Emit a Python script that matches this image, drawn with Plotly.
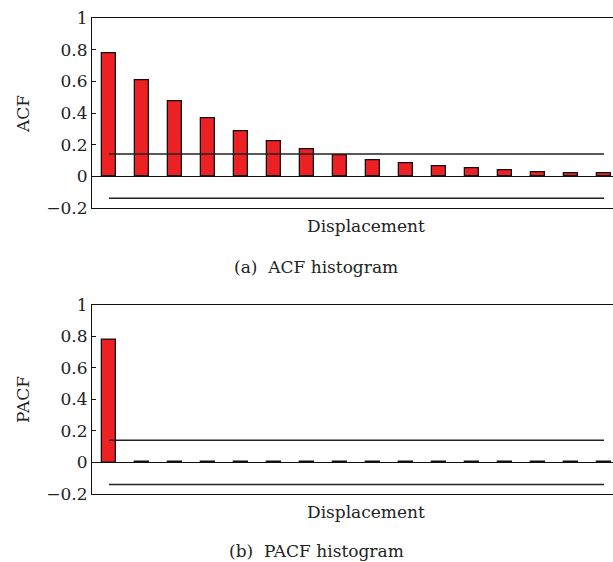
import plotly.graph_objects as go
from plotly.subplots import make_subplots

lags = list(range(1, 17))
acf = [0.78, 0.605, 0.472, 0.367, 0.285, 0.222, 0.17, 0.133, 0.10, 0.08, 0.062, 0.047, 0.037, 0.027, 0.021, 0.016]
pacf = [0.78] + [0.004] * 15
conf_upper = 0.14
conf_lower = -0.14
y_ticks = [-0.2, 0, 0.2, 0.4, 0.6, 0.8, 1]
y_tick_text = ["\u22120.2", "0", "0.2", "0.4", "0.6", "0.8", "1"]

FONT = "DejaVu Serif"
TXT = "#222222"
W, H = 613, 562
L, T, B = 92, 18, 68
plot_h = H - T - B
plot_w = W - L

def px_x(p):
    return (p - L) / plot_w

def px_y(p):
    return (H - B - p) / plot_h

fig = make_subplots(rows=2, cols=1)

for row, vals in ((1, acf), (2, pacf)):
    fig.add_trace(go.Bar(x=lags, y=vals, width=0.42,
                         marker=dict(color="#ED2024", line=dict(color="#111111", width=1.3)),
                         showlegend=False), row=row, col=1)
    for c in (conf_upper, conf_lower):
        fig.add_trace(go.Scatter(x=[lags[0], lags[-1]], y=[c, c], mode="lines",
                                 line=dict(color="#222222", width=1.5),
                                 showlegend=False, hoverinfo="skip"), row=row, col=1)

x0 = 1 - 17 / 33
x1 = x0 + plot_w / 33
for ax in ("xaxis", "xaxis2"):
    fig.layout[ax].update(range=[x0, x1], showticklabels=False, ticks="",
                          showline=True, mirror=True, linecolor="#111111", linewidth=1.2,
                          showgrid=False, zeroline=False)
for ax in ("yaxis", "yaxis2"):
    fig.layout[ax].update(range=[-0.2, 1], tickvals=y_ticks, ticktext=y_tick_text,
                          ticks="inside", ticklen=4, tickcolor="#111111",
                          showline=True, mirror=False, linecolor="#111111", linewidth=1.2,
                          showgrid=False, zeroline=True, zerolinecolor="#111111", zerolinewidth=1.2,
                          tickfont=dict(family=FONT, size=17, color=TXT))

fig.layout.yaxis.domain = [px_y(207.7), px_y(18.3)]
fig.layout.yaxis2.domain = [0, px_y(304.7)]

anns = [
    ("Displacement", 366, 226, 0),
    ("(a)  ACF histogram", 316, 267, 0),
    ("Displacement", 366, 512, 0),
    ("(b)  PACF histogram", 316, 551, 0),
    ("ACF", 23, 114, -90),
    ("PACF", 23, 400, -90),
]
for text, xp, yp, ang in anns:
    fig.add_annotation(text=text, x=px_x(xp), y=px_y(yp), xref="paper", yref="paper",
                       showarrow=False, textangle=ang, xanchor="center", yanchor="middle",
                       font=dict(family=FONT, size=17, color=TXT))

fig.update_layout(width=W, height=H, margin=dict(l=L, r=0, t=T, b=B),
                  plot_bgcolor="white", paper_bgcolor="white", bargap=0)

fig.write_html("out.html")
